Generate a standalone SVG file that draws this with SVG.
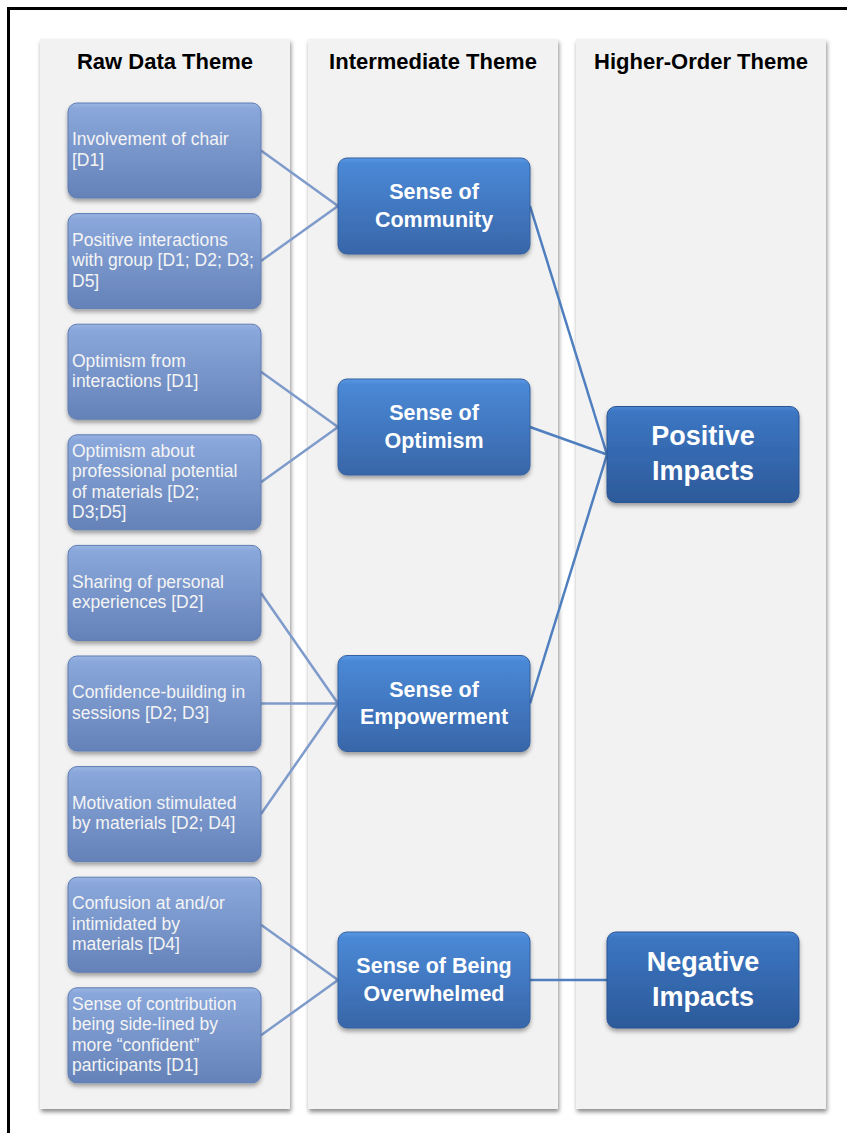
<svg xmlns="http://www.w3.org/2000/svg" width="847" height="1133" viewBox="0 0 847 1133">
<defs>
<linearGradient id="gRaw" x1="0" y1="0" x2="0" y2="1">
<stop offset="0" stop-color="#9ab5e3"/>
<stop offset="0.06" stop-color="#8aa7db"/>
<stop offset="1" stop-color="#6482b8"/>
</linearGradient>
<linearGradient id="gMid" x1="0" y1="0" x2="0" y2="1">
<stop offset="0" stop-color="#5a98e4"/>
<stop offset="0.06" stop-color="#4a88d6"/>
<stop offset="1" stop-color="#3866a8"/>
</linearGradient>
<linearGradient id="gHigh" x1="0" y1="0" x2="0" y2="1">
<stop offset="0" stop-color="#4a86d2"/>
<stop offset="0.06" stop-color="#3c76c2"/>
<stop offset="1" stop-color="#2c5a9a"/>
</linearGradient>
<filter id="shCol" x="-10%" y="-5%" width="125%" height="115%">
<feGaussianBlur in="SourceAlpha" stdDeviation="2"/>
<feOffset dx="1" dy="2.5" result="b"/>
<feFlood flood-color="#000" flood-opacity="0.45"/>
<feComposite in2="b" operator="in"/>
<feMerge><feMergeNode/><feMergeNode in="SourceGraphic"/></feMerge>
</filter>
<filter id="shBox" x="-10%" y="-10%" width="125%" height="130%">
<feGaussianBlur in="SourceAlpha" stdDeviation="2"/>
<feOffset dx="0" dy="3" result="b"/>
<feFlood flood-color="#000" flood-opacity="0.35"/>
<feComposite in2="b" operator="in"/>
<feMerge><feMergeNode/><feMergeNode in="SourceGraphic"/></feMerge>
</filter>
</defs>
<style>
.col{fill:#f2f2f2;filter:url(#shCol)}
.hdr{font-family:"Liberation Sans",Arial,sans-serif;font-weight:bold;font-size:22px;fill:#000;text-anchor:middle}
.raw rect{fill:url(#gRaw);stroke:#5f7db3;stroke-width:1;filter:url(#shBox)}
.raw text{font-family:"Liberation Sans",Arial,sans-serif;font-size:17.5px;fill:#f4f4f4}
.mid rect{fill:url(#gMid);stroke:#3561a0;stroke-width:1;filter:url(#shBox)}
.mid text{font-family:"Liberation Sans",Arial,sans-serif;font-weight:bold;font-size:21.5px;fill:#fff;text-anchor:middle}
.high rect{fill:url(#gHigh);stroke:#2b5594;stroke-width:1;filter:url(#shBox)}
.high text{font-family:"Liberation Sans",Arial,sans-serif;font-weight:bold;font-size:27px;fill:#fff;text-anchor:middle}
.c1{stroke:#7f9bcb;stroke-width:2.5;fill:none}
.c2{stroke:#4f7fbf;stroke-width:2.5;fill:none}
</style>
<rect x="0" y="0" width="847" height="1133" fill="#fff"/>
<rect x="8.5" y="8.5" width="900" height="1200" fill="none" stroke="#000" stroke-width="3"/>
<g id="columns">
<rect class="col" x="40" y="39" width="250" height="1070"/>
<rect class="col" x="308" y="39" width="250" height="1070"/>
<rect class="col" x="576" y="39" width="250" height="1070"/>
<text class="hdr" x="165" y="69">Raw Data Theme</text>
<text class="hdr" x="433" y="69">Intermediate Theme</text>
<text class="hdr" x="701" y="69">Higher-Order Theme</text>
</g>
<g id="connectors">
<line class="c1" x1="261" y1="150.5" x2="338" y2="206"/>
<line class="c1" x1="261" y1="261" x2="338" y2="206"/>
<line class="c1" x1="261" y1="371.7" x2="338" y2="427"/>
<line class="c1" x1="261" y1="482.3" x2="338" y2="427"/>
<line class="c1" x1="261" y1="593" x2="338" y2="703.5"/>
<line class="c1" x1="261" y1="703.5" x2="338" y2="703.5"/>
<line class="c1" x1="261" y1="814" x2="338" y2="703.5"/>
<line class="c1" x1="261" y1="924.7" x2="338" y2="980"/>
<line class="c1" x1="261" y1="1035.3" x2="338" y2="980"/>
<line class="c2" x1="530" y1="206" x2="607" y2="454.5"/>
<line class="c2" x1="530" y1="427" x2="607" y2="454.5"/>
<line class="c2" x1="530" y1="703.5" x2="607" y2="454.5"/>
<line class="c2" x1="530" y1="980" x2="607" y2="980"/>
</g>
<g id="raw1" class="raw"><rect x="68" y="103" width="193" height="95" rx="9"/><text x="72" y="145.2">Involvement of chair</text><text x="72" y="165.7">[D1]</text></g>
<g id="raw2" class="raw"><rect x="68" y="213.6" width="193" height="95" rx="9"/><text x="72" y="245.6">Positive interactions</text><text x="72" y="266.1">with group [D1; D2; D3;</text><text x="72" y="286.6">D5]</text></g>
<g id="raw3" class="raw"><rect x="68" y="324.2" width="193" height="95" rx="9"/><text x="72" y="366.5">Optimism from</text><text x="72" y="387">interactions [D1]</text></g>
<g id="raw4" class="raw"><rect x="68" y="434.8" width="193" height="95" rx="9"/><text x="72" y="456.5">Optimism about</text><text x="72" y="477">professional potential</text><text x="72" y="497.5">of materials [D2;</text><text x="72" y="518">D3;D5]</text></g>
<g id="raw5" class="raw"><rect x="68" y="545.4" width="193" height="95" rx="9"/><text x="72" y="587.7">Sharing of personal</text><text x="72" y="608.2">experiences [D2]</text></g>
<g id="raw6" class="raw"><rect x="68" y="656" width="193" height="95" rx="9"/><text x="72" y="698.3">Confidence-building in</text><text x="72" y="718.8">sessions [D2; D3]</text></g>
<g id="raw7" class="raw"><rect x="68" y="766.6" width="193" height="95" rx="9"/><text x="72" y="808.9">Motivation stimulated</text><text x="72" y="829.4">by materials [D2; D4]</text></g>
<g id="raw8" class="raw"><rect x="68" y="877.2" width="193" height="95" rx="9"/><text x="72" y="909.2">Confusion at and/or</text><text x="72" y="929.7">intimidated by</text><text x="72" y="950.2">materials [D4]</text></g>
<g id="raw9" class="raw"><rect x="68" y="987.8" width="193" height="95" rx="9"/><text x="72" y="1009.5">Sense of contribution</text><text x="72" y="1030">being side-lined by</text><text x="72" y="1050.5">more “confident”</text><text x="72" y="1071">participants [D1]</text></g>
<g id="mid1" class="mid"><rect x="338" y="158" width="192" height="96" rx="9"/><text x="434" y="199.3">Sense of</text><text x="434" y="226.5">Community</text></g>
<g id="mid2" class="mid"><rect x="338" y="379" width="192" height="96" rx="9"/><text x="434" y="420.3">Sense of</text><text x="434" y="447.5">Optimism</text></g>
<g id="mid3" class="mid"><rect x="338" y="655.5" width="192" height="96" rx="9"/><text x="434" y="696.8">Sense of</text><text x="434" y="724">Empowerment</text></g>
<g id="mid4" class="mid"><rect x="338" y="932" width="192" height="96" rx="9"/><text x="434" y="973.3">Sense of Being</text><text x="434" y="1000.5">Overwhelmed</text></g>
<g id="high1" class="high"><rect x="607" y="406.5" width="192" height="96" rx="9"/><text x="703" y="445">Positive</text><text x="703" y="480">Impacts</text></g>
<g id="high2" class="high"><rect x="607" y="932" width="192" height="96" rx="9"/><text x="703" y="970.5">Negative</text><text x="703" y="1005.5">Impacts</text></g>
</svg>
